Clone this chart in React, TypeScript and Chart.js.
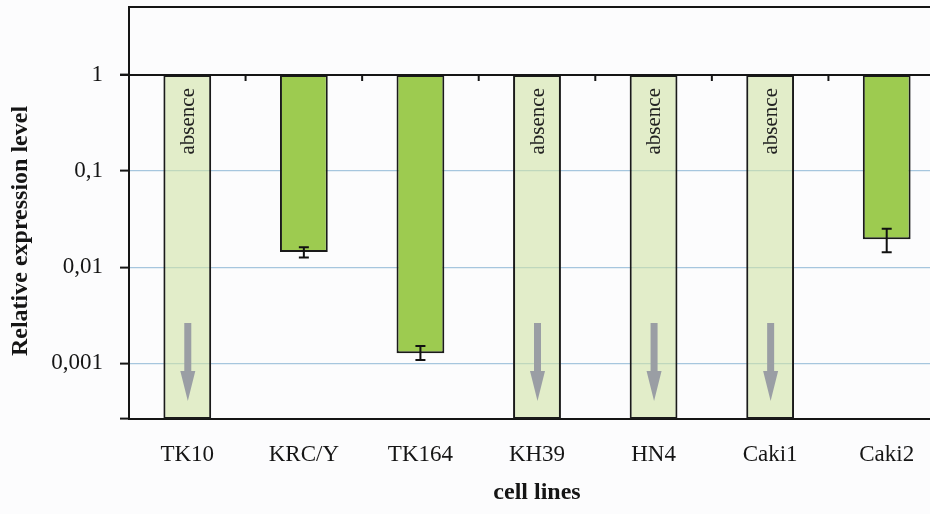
import React, { useEffect, useRef } from "react";
import { Chart, registerables } from "chart.js";

Chart.register(...registerables);

const categories = ["TK10", "KRC/Y", "TK164", "KH39", "HN4", "Caki1", "Caki2"];
const expression: (number | null)[] = [null, 0.0144, 0.00127, null, null, null, 0.0195];
const errLow: (number | null)[] = [null, 0.0126, 0.00108, null, null, null, 0.0143];
const errHigh: (number | null)[] = [null, 0.0161, 0.00151, null, null, null, 0.0251];
const absent: boolean[] = [true, false, false, true, true, true, false];
const yTickValues = [0.001, 0.01, 0.1, 1];
const yTickLabels = ["0,001", "0,01", "0,1", "1"];
const yMin = 0.000263;
const yMax = 5.1;
const reference = 1;

const SERIF = "'Liberation Serif', 'Times New Roman', serif";

export default function App() {
  const ref = useRef<HTMLCanvasElement | null>(null);

  useEffect(() => {
    const canvas = ref.current;
    if (!canvas) return;
    document.body.style.overflow = "hidden";

    const decor = {
      id: "decor",
      beforeDraw(chart: any) {
        const { ctx } = chart;
        ctx.save();
        ctx.fillStyle = "#fcfcfd";
        ctx.fillRect(0, 0, chart.width, chart.height);
        ctx.restore();
      },
      afterDatasetsDraw(chart: any) {
        const { ctx, chartArea } = chart;
        const x = chart.scales.x;
        const y = chart.scales.y;
        ctx.save();
        // top frame line
        ctx.strokeStyle = "#151515";
        ctx.lineWidth = 2;
        ctx.beginPath();
        ctx.moveTo(chartArea.left, chartArea.top);
        ctx.lineTo(chartArea.right, chartArea.top);
        ctx.stroke();
        // reference line at 1 with ticks between categories
        const y1 = y.getPixelForValue(reference);
        ctx.beginPath();
        ctx.moveTo(chartArea.left - 9, y1);
        ctx.lineTo(chartArea.right, y1);
        ctx.stroke();
        const step = x.getPixelForValue(1) - x.getPixelForValue(0);
        for (let i = 0; i < categories.length; i++) {
          const xb = x.getPixelForValue(i) + step / 2;
          ctx.beginPath();
          ctx.moveTo(xb, y1);
          ctx.lineTo(xb, y1 + 6);
          ctx.stroke();
        }
        // error bars
        ctx.strokeStyle = "#111";
        ctx.lineWidth = 2;
        const meta = chart.getDatasetMeta(0);
        for (let i = 0; i < categories.length; i++) {
          const lo = errLow[i];
          const hi = errHigh[i];
          if (lo == null || hi == null) continue;
          const bar = meta.data[i];
          const cx = bar.x;
          const pyL = y.getPixelForValue(lo);
          const pyH = y.getPixelForValue(hi);
          ctx.beginPath();
          ctx.moveTo(cx, pyH);
          ctx.lineTo(cx, pyL);
          ctx.moveTo(cx - 5, pyH);
          ctx.lineTo(cx + 5, pyH);
          ctx.moveTo(cx - 5, pyL);
          ctx.lineTo(cx + 5, pyL);
          ctx.stroke();
        }
        // absence labels and arrows
        const metaA = chart.getDatasetMeta(1);
        for (let i = 0; i < categories.length; i++) {
          if (!absent[i]) continue;
          const bar = metaA.data[i];
          const cx = bar.x;
          ctx.save();
          ctx.translate(cx + 1, y1 + 13);
          ctx.rotate(-Math.PI / 2);
          ctx.font = `21px ${SERIF}`;
          ctx.fillStyle = "#222";
          ctx.textAlign = "right";
          ctx.textBaseline = "middle";
          ctx.fillText("absence", 0, 0);
          ctx.restore();
          const bottom = chartArea.bottom;
          ctx.fillStyle = "#9a9ea4";
          ctx.fillRect(cx - 3, bottom - 96, 7, 50);
          ctx.beginPath();
          ctx.moveTo(cx - 7, bottom - 48);
          ctx.lineTo(cx + 8, bottom - 48);
          ctx.lineTo(cx + 0.5, bottom - 18);
          ctx.closePath();
          ctx.fill();
        }
        // y-axis title
        ctx.save();
        ctx.translate(21, 231);
        ctx.rotate(-Math.PI / 2);
        ctx.font = `bold 24px ${SERIF}`;
        ctx.fillStyle = "#151515";
        ctx.textAlign = "center";
        ctx.textBaseline = "middle";
        ctx.fillText("Relative expression level", 0, 0);
        ctx.restore();
        ctx.restore();
      },
    };

    const chart = new Chart(canvas, {
      type: "bar",
      data: {
        labels: categories,
        datasets: [
          {
            label: "expression",
            data: expression.map((v) => (v == null ? null : [v, reference])) as any,
            backgroundColor: "#9dcb50",
            borderColor: "#1a1a1a",
            borderWidth: 2,
            borderSkipped: false,
            grouped: false,
            barPercentage: 0.41,
            categoryPercentage: 1,
          } as any,
          {
            label: "absence",
            data: absent.map((a) => (a ? [yMin, reference] : null)) as any,
            backgroundColor: "rgba(208,226,166,0.6)",
            borderColor: "#1a1a1a",
            borderWidth: 2,
            borderSkipped: false,
            grouped: false,
            barPercentage: 0.41,
            categoryPercentage: 1,
          } as any,
        ],
      },
      options: {
        animation: false,
        responsive: false,
        events: [],
        layout: { padding: { top: 7, left: 0, right: 0, bottom: 0 } },
        plugins: { legend: { display: false }, tooltip: { enabled: false } },
        scales: {
          x: {
            grid: { display: false, drawTicks: false },
            border: { display: true, color: "#151515", width: 2 },
            ticks: { font: { family: SERIF, size: 23 }, color: "#151515", padding: 22 },
            title: {
              display: true,
              text: "cell lines",
              font: { family: SERIF, size: 24, weight: "bold" },
              color: "#151515",
              padding: { top: 0, bottom: 7 },
            },
            afterFit: (s: any) => {
              s.height = 95;
              s.paddingLeft = 0;
              s.paddingRight = 0;
            },
          },
          y: {
            type: "logarithmic",
            min: yMin,
            max: yMax,
            afterBuildTicks: (s: any) => {
              s.ticks = [yMin, ...yTickValues].map((v) => ({ value: v }));
            },
            afterFit: (s: any) => {
              s.width = 129;
              s.paddingTop = 0;
              s.paddingBottom = 0;
            },
            grid: {
              color: (c: any) => (c.tick && c.tick.value === yMin ? "rgba(0,0,0,0)" : "#a6c6de"),
              lineWidth: 1.2,
              tickColor: "#151515",
              tickLength: 9,
              tickWidth: 2,
            },
            border: { display: true, color: "#151515", width: 2 },
            ticks: {
              font: { family: SERIF, size: 23 },
              color: "#151515",
              padding: 17,
              autoSkip: false,
              callback: (v: any) => {
                const idx = yTickValues.findIndex((t) => Math.abs(t - v) / t < 1e-6);
                return idx >= 0 ? yTickLabels[idx] : "";
              },
            },
          },
        },
      },
      plugins: [decor],
    } as any);

    return () => chart.destroy();
  }, []);

  return (
    <div
      style={{
        position: "fixed",
        left: 0,
        top: 0,
        width: 930,
        height: 514,
        overflow: "hidden",
      }}
    >
      <canvas ref={ref} width={945} height={514} style={{ display: "block" }} />
    </div>
  );
}
